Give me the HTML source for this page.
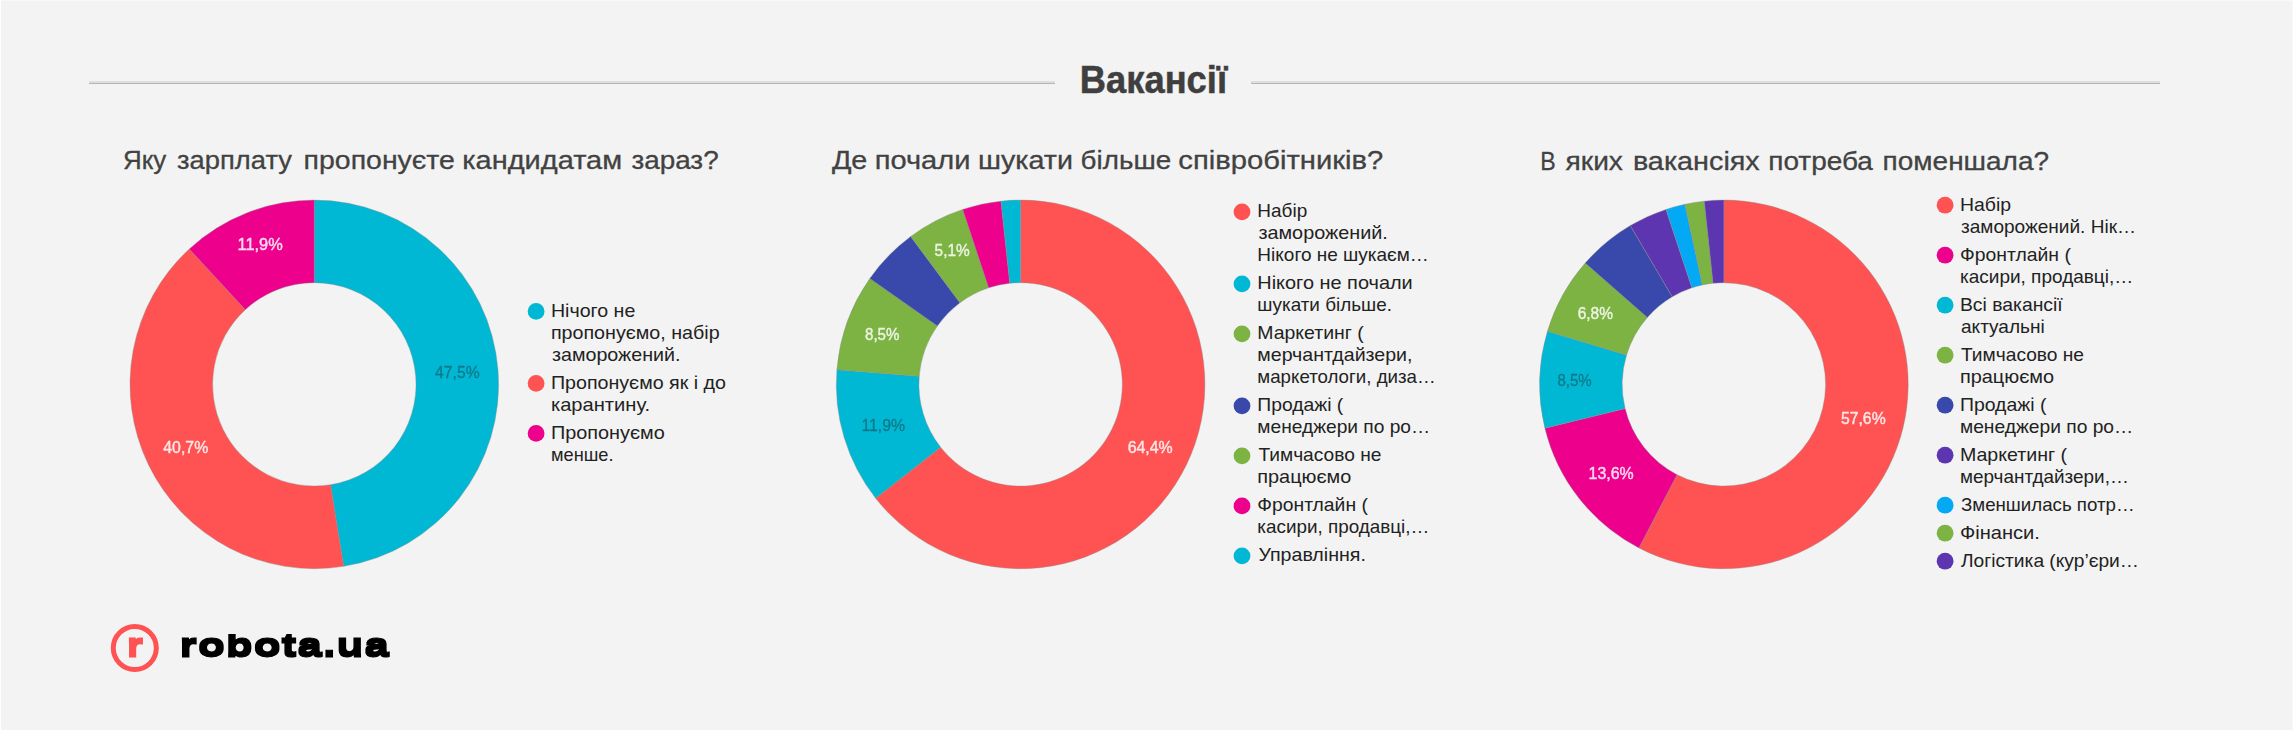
<!DOCTYPE html>
<html lang="uk"><head><meta charset="utf-8"><title>Вакансії</title>
<style>
html,body{margin:0;padding:0;background:#f3f3f3;}
body{width:2293px;height:730px;overflow:hidden;position:relative;}
svg{position:absolute;left:0;top:0;display:block;}
text{font-family:"Liberation Sans",sans-serif;}
.lg text{font-size:18.4px;fill:#222;}
.pc text{font-size:17.4px;}
.tt text{font-size:26.3px;fill:#424242;stroke:#424242;stroke-width:.3px;}
.dn path{stroke:#8c8c8c;stroke-opacity:.4;stroke-width:1px;}
</style></head><body>
<svg width="2293" height="730" viewBox="0 0 2293 730">
<rect width="2293" height="730" fill="#f3f3f3"/>
<rect x="0" y="0" width="2293" height="1" fill="#f9f9f9"/><rect x="2292" y="0" width="1" height="730" fill="#f8f8f8"/>
<rect x="0" y="0" width="1" height="730" fill="#ffffff"/>
<g id="rule">
<rect x="89" y="81" width="966" height="2" fill="#dedede"/><rect x="89" y="83" width="966" height="1" fill="#b5b5b5"/>
<rect x="1251" y="81" width="909" height="2" fill="#dedede"/><rect x="1251" y="83" width="909" height="1" fill="#b5b5b5"/>
</g>
<text x="1079.75" y="92.8" textLength="147.40" lengthAdjust="spacingAndGlyphs" font-size="39.4" font-weight="bold" fill="#3f3f3f" stroke="#3f3f3f" stroke-width=".5">Вакансії</text>
<g class="tt">
<text><tspan x="123.01" y="169.4" textLength="43.35" lengthAdjust="spacingAndGlyphs">Яку</tspan> <tspan x="177.00" y="169.4" textLength="114.91" lengthAdjust="spacingAndGlyphs">зарплату</tspan> <tspan x="303.62" y="169.4" textLength="151.26" lengthAdjust="spacingAndGlyphs">пропонуєте</tspan> <tspan x="462.20" y="169.4" textLength="159.99" lengthAdjust="spacingAndGlyphs">кандидатам</tspan> <tspan x="631.40" y="169.4" textLength="87.26" lengthAdjust="spacingAndGlyphs">зараз?</tspan></text>
<text><tspan x="831.90" y="169.4" textLength="35.48" lengthAdjust="spacingAndGlyphs">Де</tspan> <tspan x="874.69" y="169.4" textLength="95.77" lengthAdjust="spacingAndGlyphs">почали</tspan> <tspan x="978.01" y="169.4" textLength="95.03" lengthAdjust="spacingAndGlyphs">шукати</tspan> <tspan x="1080.64" y="169.4" textLength="90.52" lengthAdjust="spacingAndGlyphs">більше</tspan> <tspan x="1178.39" y="169.4" textLength="204.90" lengthAdjust="spacingAndGlyphs">співробітників?</tspan></text>
<text><tspan x="1540.14" y="169.8" textLength="15.44" lengthAdjust="spacingAndGlyphs">В</tspan> <tspan x="1565.60" y="169.8" textLength="57.36" lengthAdjust="spacingAndGlyphs">яких</tspan> <tspan x="1632.91" y="169.8" textLength="126.86" lengthAdjust="spacingAndGlyphs">вакансіях</tspan> <tspan x="1768.24" y="169.8" textLength="104.67" lengthAdjust="spacingAndGlyphs">потреба</tspan> <tspan x="1882.64" y="169.8" textLength="166.43" lengthAdjust="spacingAndGlyphs">поменшала?</tspan></text>
</g>
<g class="dn">
<path d="M314.30 200.10A184.3 184.3 0 0 1 343.62 566.35L330.48 484.81A101.7 101.7 0 0 0 314.30 282.70Z" fill="#00b8d4"/>
<path d="M343.62 566.35A184.3 184.3 0 0 1 189.29 248.98L245.32 309.67A101.7 101.7 0 0 0 330.48 484.81Z" fill="#ff5252"/>
<path d="M189.29 248.98A184.3 184.3 0 0 1 314.30 200.10L314.30 282.70A101.7 101.7 0 0 0 245.32 309.67Z" fill="#ec008c"/>
<path d="M1020.60 200.10A184.3 184.3 0 1 1 875.64 498.21L940.61 447.20A101.7 101.7 0 1 0 1020.60 282.70Z" fill="#ff5252"/>
<path d="M875.64 498.21A184.3 184.3 0 0 1 836.89 369.70L919.22 376.29A101.7 101.7 0 0 0 940.61 447.20Z" fill="#00b8d4"/>
<path d="M836.89 369.70A184.3 184.3 0 0 1 869.79 278.47L937.38 325.94A101.7 101.7 0 0 0 919.22 376.29Z" fill="#7cb342"/>
<path d="M869.79 278.47A184.3 184.3 0 0 1 910.69 236.46L959.95 302.76A101.7 101.7 0 0 0 937.38 325.94Z" fill="#3949ab"/>
<path d="M910.69 236.46A184.3 184.3 0 0 1 962.72 209.43L988.66 287.85A101.7 101.7 0 0 0 959.95 302.76Z" fill="#7cb342"/>
<path d="M962.72 209.43A184.3 184.3 0 0 1 1001.01 201.14L1009.79 283.28A101.7 101.7 0 0 0 988.66 287.85Z" fill="#ec008c"/>
<path d="M1001.01 201.14A184.3 184.3 0 0 1 1020.60 200.10L1020.60 282.70A101.7 101.7 0 0 0 1009.79 283.28Z" fill="#00b8d4"/>
<path d="M1723.90 200.10A184.3 184.3 0 1 1 1638.92 547.94L1677.01 474.64A101.7 101.7 0 1 0 1723.90 282.70Z" fill="#ff5252"/>
<path d="M1638.92 547.94A184.3 184.3 0 0 1 1544.87 428.14L1625.11 408.54A101.7 101.7 0 0 0 1677.01 474.64Z" fill="#ec008c"/>
<path d="M1544.87 428.14A184.3 184.3 0 0 1 1547.45 331.19L1626.53 355.04A101.7 101.7 0 0 0 1625.11 408.54Z" fill="#00b8d4"/>
<path d="M1547.45 331.19A184.3 184.3 0 0 1 1585.20 263.04L1647.36 317.43A101.7 101.7 0 0 0 1626.53 355.04Z" fill="#7cb342"/>
<path d="M1585.20 263.04A184.3 184.3 0 0 1 1630.34 225.62L1672.27 296.78A101.7 101.7 0 0 0 1647.36 317.43Z" fill="#3949ab"/>
<path d="M1630.34 225.62A184.3 184.3 0 0 1 1666.02 209.43L1691.96 287.85A101.7 101.7 0 0 0 1672.27 296.78Z" fill="#5e35b1"/>
<path d="M1666.02 209.43A184.3 184.3 0 0 1 1684.94 204.26L1702.40 285.00A101.7 101.7 0 0 0 1691.96 287.85Z" fill="#03a9f4"/>
<path d="M1684.94 204.26A184.3 184.3 0 0 1 1704.31 201.14L1713.09 283.28A101.7 101.7 0 0 0 1702.40 285.00Z" fill="#7cb342"/>
<path d="M1704.31 201.14A184.3 184.3 0 0 1 1723.90 200.10L1723.90 282.70A101.7 101.7 0 0 0 1713.09 283.28Z" fill="#5e35b1"/>
</g>
<g class="pc">
<text x="237.56" y="249.6" textLength="45.18" lengthAdjust="spacingAndGlyphs" fill="#fff" stroke="#fff" stroke-width=".45" opacity="0.85">11,9%</text>
<text x="435.10" y="378.4" textLength="44.52" lengthAdjust="spacingAndGlyphs" fill="#222" stroke="#222" stroke-width=".3" opacity="0.42">47,5%</text>
<text x="163.30" y="452.5" textLength="44.92" lengthAdjust="spacingAndGlyphs" fill="#fff" stroke="#fff" stroke-width=".45" opacity="0.85">40,7%</text>
<text x="934.60" y="256.0" textLength="35.11" lengthAdjust="spacingAndGlyphs" fill="#fff" stroke="#fff" stroke-width=".45" opacity="0.85">5,1%</text>
<text x="865.00" y="339.7" textLength="34.40" lengthAdjust="spacingAndGlyphs" fill="#fff" stroke="#fff" stroke-width=".45" opacity="0.85">8,5%</text>
<text x="861.39" y="430.6" textLength="43.73" lengthAdjust="spacingAndGlyphs" fill="#222" stroke="#222" stroke-width=".3" opacity="0.42">11,9%</text>
<text x="1127.70" y="452.9" textLength="45.02" lengthAdjust="spacingAndGlyphs" fill="#fff" stroke="#fff" stroke-width=".45" opacity="0.85">64,4%</text>
<text x="1577.70" y="318.8" textLength="35.31" lengthAdjust="spacingAndGlyphs" fill="#fff" stroke="#fff" stroke-width=".45" opacity="0.85">6,8%</text>
<text x="1557.40" y="385.5" textLength="34.30" lengthAdjust="spacingAndGlyphs" fill="#222" stroke="#222" stroke-width=".3" opacity="0.42">8,5%</text>
<text x="1588.58" y="478.6" textLength="45.14" lengthAdjust="spacingAndGlyphs" fill="#fff" stroke="#fff" stroke-width=".45" opacity="0.85">13,6%</text>
<text x="1841.00" y="423.8" textLength="44.62" lengthAdjust="spacingAndGlyphs" fill="#fff" stroke="#fff" stroke-width=".45" opacity="0.85">57,6%</text>
</g>
<g class="lg">
<circle cx="536.1" cy="311.4" r="8.4" fill="#00b8d4"/>
<circle cx="536.1" cy="383.4" r="8.4" fill="#ff5252"/>
<circle cx="536.1" cy="433.4" r="8.4" fill="#ec008c"/>
<text x="550.93" y="316.9" textLength="84.41" lengthAdjust="spacingAndGlyphs">Нічого не</text>
<text x="550.93" y="338.9" textLength="168.71" lengthAdjust="spacingAndGlyphs">пропонуємо, набір</text>
<text x="552.00" y="360.9" textLength="128.49" lengthAdjust="spacingAndGlyphs">заморожений.</text>
<text x="550.93" y="388.9" textLength="175.01" lengthAdjust="spacingAndGlyphs">Пропонуємо як і до</text>
<text x="550.91" y="410.9" textLength="99.21" lengthAdjust="spacingAndGlyphs">карантину.</text>
<text x="550.92" y="438.9" textLength="113.83" lengthAdjust="spacingAndGlyphs">Пропонуємо</text>
<text x="551.01" y="460.9" textLength="62.49" lengthAdjust="spacingAndGlyphs">менше.</text>
<circle cx="1242" cy="211.9" r="8.4" fill="#ff5252"/>
<circle cx="1242" cy="283.9" r="8.4" fill="#00b8d4"/>
<circle cx="1242" cy="333.9" r="8.4" fill="#7cb342"/>
<circle cx="1242" cy="405.9" r="8.4" fill="#3949ab"/>
<circle cx="1242" cy="455.9" r="8.4" fill="#7cb342"/>
<circle cx="1242" cy="505.9" r="8.4" fill="#ec008c"/>
<circle cx="1242" cy="555.9" r="8.4" fill="#00b8d4"/>
<text x="1257.37" y="217.4" textLength="49.87" lengthAdjust="spacingAndGlyphs">Набір</text>
<text x="1258.40" y="239.4" textLength="129.40" lengthAdjust="spacingAndGlyphs">заморожений.</text>
<text x="1257.37" y="261.4" textLength="171.50" lengthAdjust="spacingAndGlyphs">Нікого не шукаєм…</text>
<text x="1257.32" y="289.4" textLength="155.36" lengthAdjust="spacingAndGlyphs">Нікого не почали</text>
<text x="1257.37" y="311.4" textLength="134.57" lengthAdjust="spacingAndGlyphs">шукати більше.</text>
<text x="1257.34" y="339.4" textLength="106.43" lengthAdjust="spacingAndGlyphs">Маркетинг (</text>
<text x="1257.34" y="361.4" textLength="155.15" lengthAdjust="spacingAndGlyphs">мерчантдайзери,</text>
<text x="1257.38" y="383.4" textLength="178.25" lengthAdjust="spacingAndGlyphs">маркетологи, диза…</text>
<text x="1257.35" y="411.4" textLength="85.93" lengthAdjust="spacingAndGlyphs">Продажі (</text>
<text x="1257.36" y="433.4" textLength="172.83" lengthAdjust="spacingAndGlyphs">менеджери по ро…</text>
<text x="1258.40" y="461.4" textLength="123.04" lengthAdjust="spacingAndGlyphs">Тимчасово не</text>
<text x="1257.32" y="483.4" textLength="93.93" lengthAdjust="spacingAndGlyphs">працюємо</text>
<text x="1257.35" y="511.4" textLength="110.53" lengthAdjust="spacingAndGlyphs">Фронтлайн (</text>
<text x="1257.37" y="533.4" textLength="171.98" lengthAdjust="spacingAndGlyphs">касири, продавці,…</text>
<text x="1258.40" y="561.4" textLength="107.48" lengthAdjust="spacingAndGlyphs">Управління.</text>
<circle cx="1945.1" cy="205.2" r="8.4" fill="#ff5252"/>
<circle cx="1945.1" cy="255.2" r="8.4" fill="#ec008c"/>
<circle cx="1945.1" cy="305.2" r="8.4" fill="#00b8d4"/>
<circle cx="1945.1" cy="355.2" r="8.4" fill="#7cb342"/>
<circle cx="1945.1" cy="405.2" r="8.4" fill="#3949ab"/>
<circle cx="1945.1" cy="455.2" r="8.4" fill="#5e35b1"/>
<circle cx="1945.1" cy="505.2" r="8.4" fill="#03a9f4"/>
<circle cx="1945.1" cy="533.2" r="8.4" fill="#7cb342"/>
<circle cx="1945.1" cy="561.2" r="8.4" fill="#5e35b1"/>
<text x="1959.94" y="210.7" textLength="51.10" lengthAdjust="spacingAndGlyphs">Набір</text>
<text x="1961.00" y="232.7" textLength="175.08" lengthAdjust="spacingAndGlyphs">заморожений. Нік…</text>
<text x="1959.95" y="260.7" textLength="110.93" lengthAdjust="spacingAndGlyphs">Фронтлайн (</text>
<text x="1959.97" y="282.7" textLength="173.30" lengthAdjust="spacingAndGlyphs">касири, продавці,…</text>
<text x="1959.95" y="310.7" textLength="102.77" lengthAdjust="spacingAndGlyphs">Всі вакансії</text>
<text x="1961.00" y="332.7" textLength="83.72" lengthAdjust="spacingAndGlyphs">актуальні</text>
<text x="1961.00" y="360.7" textLength="123.04" lengthAdjust="spacingAndGlyphs">Тимчасово не</text>
<text x="1959.92" y="382.7" textLength="94.23" lengthAdjust="spacingAndGlyphs">працюємо</text>
<text x="1959.94" y="410.7" textLength="86.43" lengthAdjust="spacingAndGlyphs">Продажі (</text>
<text x="1959.95" y="432.7" textLength="173.34" lengthAdjust="spacingAndGlyphs">менеджери по ро…</text>
<text x="1959.94" y="460.7" textLength="107.13" lengthAdjust="spacingAndGlyphs">Маркетинг (</text>
<text x="1959.97" y="482.7" textLength="168.89" lengthAdjust="spacingAndGlyphs">мерчантдайзери,…</text>
<text x="1961.00" y="510.7" textLength="173.63" lengthAdjust="spacingAndGlyphs">Зменшилась потр…</text>
<text x="1959.91" y="538.7" textLength="80.01" lengthAdjust="spacingAndGlyphs">Фінанси.</text>
<text x="1961.00" y="566.7" textLength="177.99" lengthAdjust="spacingAndGlyphs">Логістика (кур’єри…</text>
</g>
<g id="logo">
<defs><clipPath id="lc"><rect x="170" y="633.9" width="240" height="40"/></clipPath>
<filter id="vb" x="-5%" y="-20%" width="110%" height="140%"><feMorphology operator="dilate" radius="0 1"/></filter></defs>
<circle cx="134.8" cy="648" r="21.5" fill="none" stroke="#ff5252" stroke-width="5"/>
<g filter="url(#vb)"><text transform="translate(127 655.9) scale(1.3 1)" font-weight="bold" font-size="31.2" fill="#ff5252" stroke="#ff5252" stroke-width="1.2">r</text></g>
<g clip-path="url(#lc)"><g filter="url(#vb)"><text transform="translate(179.8 655.9) scale(1.385 1)" font-weight="bold" font-size="31.2" fill="#000" stroke="#000" stroke-width="1.1" letter-spacing="1.1">robota.ua</text></g></g>
</g>
</svg>
</body></html>
